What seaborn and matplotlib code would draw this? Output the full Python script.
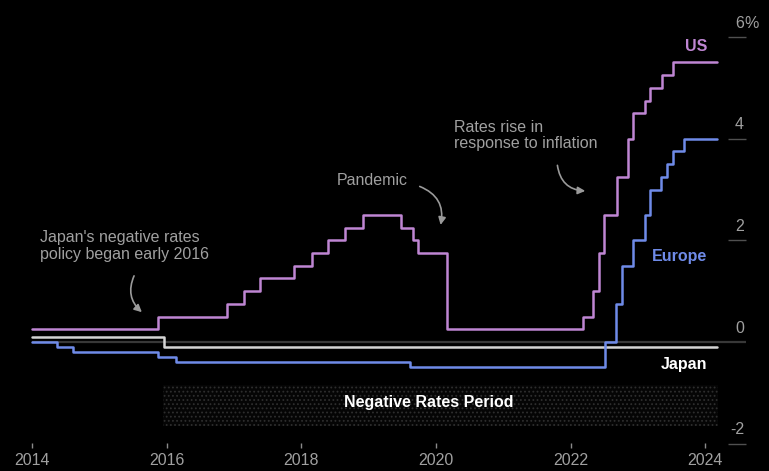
import matplotlib
matplotlib.use("Agg")
import matplotlib.pyplot as plt
import seaborn as sns

# ── Data (decimal years, policy rate in %) ────────────────────────────────────
US_DATES = [2014.0, 2015.87, 2016.89, 2017.14, 2017.38, 2017.89, 2018.15, 2018.40,
            2018.65, 2018.91, 2019.48, 2019.66, 2019.74, 2020.16, 2022.18, 2022.34,
            2022.43, 2022.50, 2022.69, 2022.86, 2022.93, 2023.11, 2023.18, 2023.36,
            2023.53, 2024.17]
US_RATES = [0.25, 0.50, 0.75, 1.00, 1.25, 1.50, 1.75, 2.00,
            2.25, 2.50, 2.25, 2.00, 1.75, 0.25, 0.50, 1.00,
            1.75, 2.50, 3.25, 4.00, 4.50, 4.75, 5.00, 5.25,
            5.50, 5.50]

EU_DATES = [2014.0, 2014.37, 2014.60, 2015.87, 2016.13, 2019.62, 2022.51, 2022.68,
            2022.77, 2022.93, 2023.11, 2023.18, 2023.35, 2023.44, 2023.53, 2023.69,
            2024.17]
EU_RATES = [0.00, -0.10, -0.20, -0.30, -0.40, -0.50, 0.00, 0.75,
            1.50, 2.00, 2.50, 3.00, 3.25, 3.50, 3.75, 4.00,
            4.00]

JP_DATES = [2014.0, 2015.96, 2024.17]
JP_RATES = [0.10, -0.10, -0.10]

NEG_PERIOD = (2015.94, 2024.19)

X_TICKS = [2014, 2016, 2018, 2020, 2022, 2024]
Y_TICKS = [6, 4, 2, 0, -2]

# ── Style ─────────────────────────────────────────────────────────────────────
sns.set_theme(style="dark")
plt.rcParams.update({
    "axes.facecolor": "black",
    "figure.facecolor": "black",
    "hatch.linewidth": 0.8,
})
plt.rcParams["font.family"] = ["Liberation Sans", "DejaVu Sans"]

C_US = "#bf86d3"
C_EU = "#6f8be8"
C_JP = "#d4d4d4"
C_TXT = "#a0a0a0"
C_ZERO = "#383838"

fig = plt.figure(figsize=(7.69, 4.71), dpi=100)
ax = fig.add_axes([0, 0, 1, 1])
ax.set_xlim(2013.52, 2024.95)
ax.set_ylim(-2.54, 6.73)
ax.axis("off")

# zero line + right-side y ticks
ax.hlines(0, 2014.0, 2024.61, color=C_ZERO, lw=1.6, zorder=1)
for v in Y_TICKS:
    if v != 0:
        ax.hlines(v, 2024.34, 2024.61, color="#505050", lw=1.0, zorder=1)
    ax.text(2024.58, v + 0.27, f"{v}", ha="right", va="center",
            color=C_TXT, fontsize=11.5)
ax.text(2024.58, Y_TICKS[0] + 0.27, "%", ha="left", va="center",
        color=C_TXT, fontsize=11.5)

# x ticks
for t in X_TICKS:
    ax.vlines(t, -2.09, -1.99, color="#8a8a8a", lw=1.0)
    ax.text(t, -2.34, str(t), ha="center", va="center", color=C_TXT, fontsize=11.5)

# negative rates band (dotted texture)
ax.fill_between(list(NEG_PERIOD), -1.65, -0.85, facecolor="#050505",
                edgecolor="#2e2e2e", hatch="....", linewidth=0, zorder=1)
ax.text(sum(NEG_PERIOD) / 2 - 0.17, -1.20, "Negative Rates Period", ha="center",
        va="center", color="white", fontsize=11.5, fontweight="bold", zorder=3)

# series
sns.lineplot(x=JP_DATES, y=JP_RATES, ax=ax, color=C_JP, lw=1.8,
             drawstyle="steps-post", zorder=2)
sns.lineplot(x=EU_DATES, y=EU_RATES, ax=ax, color=C_EU, lw=1.8,
             drawstyle="steps-post", zorder=3)
sns.lineplot(x=US_DATES, y=US_RATES, ax=ax, color=C_US, lw=1.8,
             drawstyle="steps-post", zorder=3)
ax.set_xlim(2013.52, 2024.95)
ax.set_ylim(-2.54, 6.73)

# series labels
ax.text(2024.03, 5.81, "US", ha="right", va="center", color=C_US,
        fontsize=11.5, fontweight="bold")
ax.text(2024.03, 1.69, "Europe", ha="right", va="center", color=C_EU,
        fontsize=11.5, fontweight="bold")
ax.text(2024.03, -0.45, "Japan", ha="right", va="center", color="white",
        fontsize=11.5, fontweight="bold")

# annotations
arrow = dict(arrowstyle="-|>", color="#9a9a9a", lw=1.2, mutation_scale=11)
ax.text(2020.27, 4.06, "Rates rise in\nresponse to inflation", ha="left",
        va="center", color=C_TXT, fontsize=11.5, linespacing=1.1)
ax.annotate("", xy=(2022.26, 2.97), xytext=(2021.80, 3.53),
            arrowprops=dict(connectionstyle="arc3,rad=0.45", **arrow))

ax.text(2018.53, 3.17, "Pandemic", ha="left", va="center", color=C_TXT, fontsize=11.5)
ax.annotate("", xy=(2020.06, 2.25), xytext=(2019.72, 3.08),
            arrowprops=dict(connectionstyle="arc3,rad=-0.45", **arrow))

ax.text(2014.11, 1.89, "Japan's negative rates\npolicy began early 2016", ha="left",
        va="center", color=C_TXT, fontsize=11.5, linespacing=1.1)
ax.annotate("", xy=(2015.66, 0.55), xytext=(2015.53, 1.35),
            arrowprops=dict(connectionstyle="arc3,rad=0.4", **arrow))

fig.savefig("out.png", dpi=100, facecolor="black")
